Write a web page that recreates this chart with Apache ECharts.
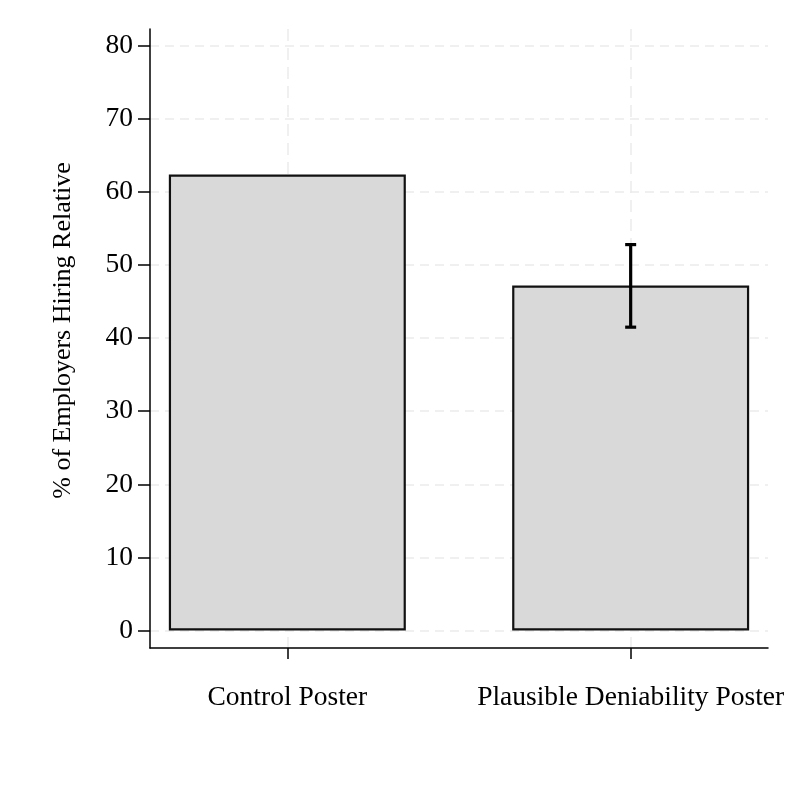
<!DOCTYPE html>
<html>
<head>
<meta charset="UTF-8">
<title>Employers Hiring Relative</title>
<script src="https://cdn.jsdelivr.net/npm/echarts@6/dist/echarts.min.js"></script>
<style>
  html, body { margin: 0; padding: 0; background: #fff; }
  #chart { width: 802px; height: 802px; }
</style>
</head>
<body>
<div id="chart"></div>
<script>
// data
var categories = ['Control Poster', 'Plausible Deniability Poster'];
var positions = [1, 2];
var hiringPct = [62.4, 47.2];
// error bar only on the second bar: [position, low, high]
var errorBars = [[2, 41.5, 52.8]];
var yTicks = [0, 10, 20, 30, 40, 50, 60, 70, 80];

var font = '"Liberation Serif", "Times New Roman", serif';

var chart = echarts.init(document.getElementById('chart'));

chart.setOption({
  animation: false,
  grid: { left: 150, right: 34, top: 29, bottom: 154 },
  xAxis: {
    type: 'value',
    min: 0.6,
    max: 2.4,
    axisLine: { show: true, onZero: false, lineStyle: { color: '#000', width: 1.5 } },
    axisTick: { show: true, length: 11, customValues: positions, lineStyle: { color: '#000', width: 1.5 } },
    axisLabel: {
      customValues: positions,
      margin: 36,
      color: '#000',
      fontFamily: font,
      fontSize: 27.5,
      formatter: function (v) { return categories[positions.indexOf(v)]; }
    },
    splitLine: { show: true, lineStyle: { color: '#ececec', width: 1.5, type: [12, 7] } }
  },
  yAxis: {
    type: 'value',
    min: -2.4,
    max: 82.3,
    name: '% of Employers Hiring Relative',
    nameLocation: 'middle',
    nameGap: 74,
    nameTextStyle: { color: '#000', fontFamily: font, fontSize: 26, padding: [0, 0, 0, 16] },
    axisLine: { show: true, onZero: false, lineStyle: { color: '#000', width: 1.5 } },
    axisTick: { show: true, length: 12, customValues: yTicks, lineStyle: { color: '#000', width: 1.5 } },
    axisLabel: {
      customValues: yTicks,
      margin: 17,
      color: '#000',
      fontFamily: font,
      fontSize: 27.5
    },
    splitLine: { show: true, lineStyle: { color: '#ececec', width: 1.5, type: [9, 6] } }
  },
  series: [{
    type: 'bar',
    barWidth: 237,
    data: positions.map(function (p, i) { return [p, hiringPct[i]]; }),
    itemStyle: { color: '#d9d9d9', borderColor: '#111', borderWidth: 2.2 },
    z: 2
  }, {
    type: 'custom',
    z: 3,
    data: errorBars,
    renderItem: function (params, api) {
      var x = api.value(0);
      var lo = api.coord([x, api.value(1)]);
      var hi = api.coord([x, api.value(2)]);
      var cap = 5.5;
      var style = { stroke: '#000', lineWidth: 3.2 };
      return {
        type: 'group',
        children: [
          { type: 'line', shape: { x1: lo[0], y1: lo[1], x2: hi[0], y2: hi[1] }, style: style },
          { type: 'line', shape: { x1: hi[0] - cap, y1: hi[1], x2: hi[0] + cap, y2: hi[1] }, style: style },
          { type: 'line', shape: { x1: lo[0] - cap, y1: lo[1], x2: lo[0] + cap, y2: lo[1] }, style: style }
        ]
      };
    }
  }]
});
</script>
</body>
</html>
